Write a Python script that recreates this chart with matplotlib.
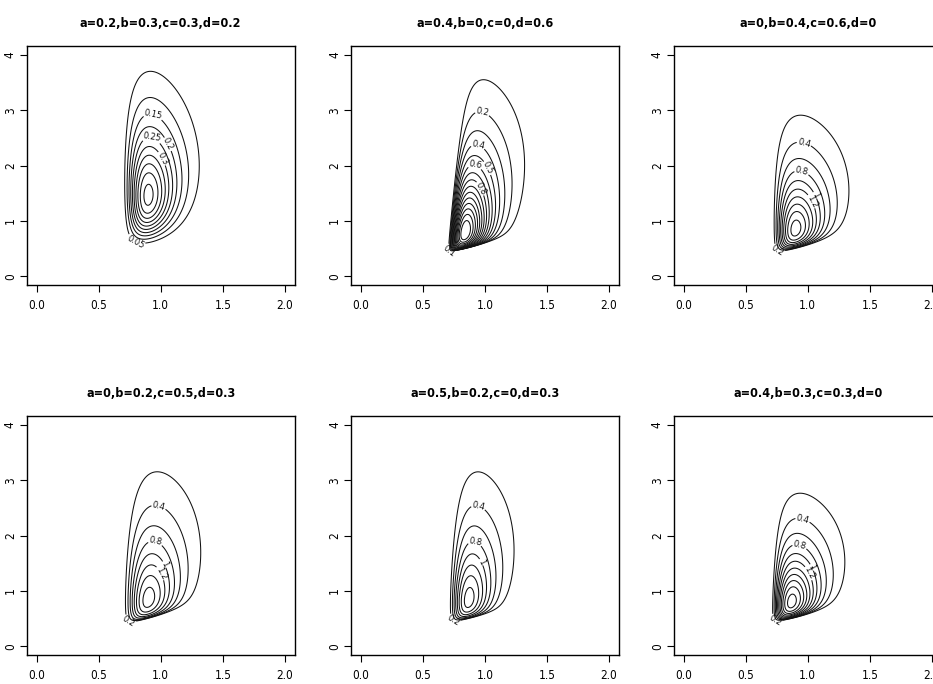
import numpy as np
import matplotlib
matplotlib.use("Agg")
import matplotlib.pyplot as plt
from matplotlib import font_manager

# ---- panel titles ----
titles = ["a=0.2,b=0.3,c=0.3,d=0.2", "a=0.4,b=0,c=0,d=0.6", "a=0,b=0.4,c=0.6,d=0",
          "a=0,b=0.2,c=0.5,d=0.3", "a=0.5,b=0.2,c=0,d=0.3", "a=0.4,b=0.3,c=0.3,d=0"]

# ---- shape parameters of each density surface (estimated from the contours) ----
x_lower = [0.65, 0.69, 0.69, 0.65, 0.67, 0.685]   # left support bound
u_mode = [0.25, 0.134, 0.21, 0.243, 0.19, 0.178]
u_shape = [4.6, 2.7, 3.7, 4.3, 4.0, 3.3]
u_fan = [0.3, 0.5, 0.5, 0.5, 0.6, 0.55]           # skew of x spread growing with height
x_shear = [0.0, 0.045, 0.005, 0.017, 0.023, 0.02]
y_lower = [0.39, 0.434, 0.41, 0.39, 0.416, 0.424]  # lower support bound
y_slope = [0.15, 0.35, 0.30, 0.30, 0.30, 0.30]
y_curve = [0.5, 0.6, 0.6, 0.6, 0.6, 0.6]
v_mode = [1.0, 0.30, 0.35, 0.35, 0.35, 0.30]
v_shape = [3.2, 1.42, 1.60, 1.48, 1.48, 1.55]
peak = [0.52, 1.60, 2.10, 1.70, 1.70, 2.30]
level_step = [0.05, 0.1, 0.2, 0.2, 0.2, 0.2]

# contour labels shown on each panel
labels_top = [[0.15, 0.25], [0.2, 0.4, 0.6], [0.4, 0.8], [0.4, 0.8], [0.4, 0.8], [0.4, 0.8]]
labels_side = [[0.2, 0.3], [0.5, 0.8], [1.0, 1.2], [1.0, 1.2], [1.0], [1.0, 1.2]]
labels_bottom = [[0.05], [0.1], [0.2], [0.2], [0.2], [0.2]]

x_ticks = [0.0, 0.5, 1.0, 1.5, 2.0]
x_tick_labels = ["0.0", "0.5", "1.0", "1.5", "2.0"]
y_ticks = [0, 1, 2, 3, 4]
y_tick_labels = ["0", "1", "2", "3", "4"]

names = {f.name for f in font_manager.fontManager.ttflist}
if "Liberation Sans Narrow" in names:
    FAM = ["Liberation Sans Narrow", "DejaVu Sans"]
    STRETCH = "normal"
    TSIZE, KSIZE = 10, 9
else:
    FAM = ["DejaVu Sans"]
    STRETCH = "condensed"
    TSIZE, KSIZE = 9, 8.5


def surface(i, X, Y):
    dx = X - x_lower[i]
    dy = Y - y_lower[i]
    u = dx - x_shear[i] * dy
    v = dy - y_slope[i] * dx - y_curve[i] * dx ** 2
    valid = (u > 0) & (v > 0)
    zu = np.where(valid, u / u_mode[i], 1.0)
    vv = np.where(valid, v, v_mode[i])
    zv = vv / v_mode[i]
    g = u_fan[i]
    a_eff = (u_shape[i] - 1) * (1 + g * v_mode[i]) / (1 + g * vv)
    lg = a_eff * (np.log(zu) - zu + 1)
    lw = (v_shape[i] - 1) * (np.log(zv) - zv + 1)
    f = peak[i] * np.exp(lg + lw)
    f[~valid] = 0.0
    return f


def pick_point(ax, cs, k, wx, wy):
    segs = cs.allsegs[k]
    if not segs:
        return None
    seg = max(segs, key=len)
    pix = ax.transData.transform(seg)
    score = wx * pix[:, 0] + wy * pix[:, 1]
    return tuple(seg[int(np.argmax(score))])


fig = plt.figure(figsize=(9.33, 6.84), dpi=100)
W, H = 933.0, 684.0
lefts = [26.7, 351.0, 673.7]
tops = [46.0, 416.0]
aw, ah = 268.0, 239.0

xs = np.linspace(-0.08, 2.08, 800)
ys = np.linspace(-0.16, 4.16, 1000)
X, Y = np.meshgrid(xs, ys)

for i in range(6):
    r, c = divmod(i, 3)
    ax = fig.add_axes([lefts[c] / W, 1 - (tops[r] + ah) / H, aw / W, ah / H])
    ax.set_xlim(-0.08, 2.08)
    ax.set_ylim(-0.16, 4.16)
    Z = surface(i, X, Y)
    n = int(peak[i] / level_step[i] + 1e-9)
    levels = np.arange(1, n + 1) * level_step[i]
    cs = ax.contour(X, Y, Z, levels=levels, colors="#111111", linewidths=0.75)
    pts = []
    groups = [(labels_top[i], 0.3, 1.0), (labels_side[i], 1.0, 0.5), (labels_bottom[i], -0.5, -1.0)]
    for labs, wx, wy in groups:
        for lev in labs:
            k = int(np.argmin(np.abs(levels - lev)))
            p = pick_point(ax, cs, k, wx, wy)
            if p is not None:
                pts.append(p)
    if pts:
        ax.clabel(cs, levels=levels, manual=pts, inline=True, fontsize=6,
                  fmt="%g", inline_spacing=1)
    ax.set_xticks(x_ticks)
    ax.set_xticklabels(x_tick_labels, family=FAM, stretch=STRETCH, fontsize=KSIZE)
    ax.set_yticks(y_ticks)
    ax.set_yticklabels(y_tick_labels, family=FAM, stretch=STRETCH, fontsize=KSIZE,
                       rotation=90, va="center")
    ax.tick_params(direction="out", length=5, width=0.8, pad=5, axis="x")
    ax.tick_params(direction="out", length=5, width=0.8, pad=2, axis="y")
    for s in ax.spines.values():
        s.set_linewidth(1.0)
    ax.set_title(titles[i], family=FAM, stretch=STRETCH, fontsize=TSIZE,
                 fontweight="bold", pad=14)

fig.savefig("out.png", dpi=100)
